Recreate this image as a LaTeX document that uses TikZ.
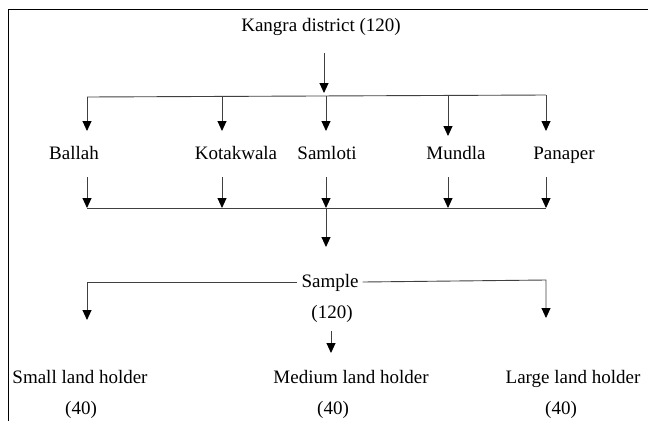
\documentclass[tikz,border=0pt]{standalone}
\usepackage{fontspec}
\setmainfont{Liberation Serif}
\usetikzlibrary{arrows.meta}
\begin{document}
\begin{tikzpicture}[x=1pt,y=-1pt,
  lbl/.style={font=\fontsize{19}{22}\selectfont, inner sep=0pt, text height=13pt, text depth=0pt, anchor=center},
  ln/.style={line width=0.9pt, draw=black!75},
  arr/.style={ln, -{Triangle[width=9pt,length=10pt,color=black]}}]
\useasboundingbox (0,0) rectangle (648,421);
% frame
\draw[line width=1pt] (8,421) -- (8,9) -- (648,9);
% text nodes
\node[lbl] (kangra) at (321,25) {Kangra district (120)};
\node[lbl] (ballah) at (74,153) {Ballah};
\node[lbl] (kotak) at (236,153) {Kotakwala};
\node[lbl] (samloti) at (327,153) {Samloti};
\node[lbl] (mundla) at (456,153) {Mundla};
\node[lbl] (panaper) at (564,153) {Panaper};
\node[lbl] (sample) at (330,281) {Sample};
\node[lbl] (n120) at (332,312) {(120)};
\node[lbl] (small) at (80,377) {Small land holder};
\node[lbl] (medium) at (351,377) {Medium land holder};
\node[lbl] (large) at (573,377) {Large land holder};
\node[lbl] (s40) at (81,408) {(40)};
\node[lbl] (m40) at (333,408) {(40)};
\node[lbl] (l40) at (561,408) {(40)};
% coordinates
\coordinate (k0) at (324,53);
\coordinate (k1) at (324,93);
\coordinate (tL) at (87,97);
\coordinate (tR) at (546,95);
\foreach \n/\x/\yt/\yb in {a/87/97/131, b/222/97/131, c/326/96/131, d/448/96/136, e/546/95/131}{
  \coordinate (t\n) at (\x,\yt);
  \coordinate (d\n) at (\x,\yb);
  \coordinate (u\n) at (\x,177);
  \coordinate (v\n) at (\x,208);
}
\coordinate (c0) at (326,208);
\coordinate (c1) at (326,247);
\coordinate (sL) at (87,282);
\coordinate (sLd) at (87,320);
\coordinate (sR) at (546,280);
\coordinate (sRd) at (546,318);
\coordinate (m0) at (331,331);
\coordinate (m1) at (331,353);
% connectors
\draw[arr] (k0) -- (k1);
\draw[ln] (tL) -- (tR);
\foreach \n in {a,b,c,d,e}{
  \draw[arr] (t\n) -- (d\n);
  \draw[arr] (u\n) -- (v\n);
}
\draw[ln] (va) -- (ve);
\draw[arr] (c0) -- (c1);
\draw[arr] ([xshift=-4pt]sample.west |- sL) -- (sL) -- (sLd);
\draw[arr] ([xshift=4pt]sample.east |- sL) -- (sR) -- (sRd);
\draw[arr] (m0) -- (m1);
\end{tikzpicture}
\end{document}
